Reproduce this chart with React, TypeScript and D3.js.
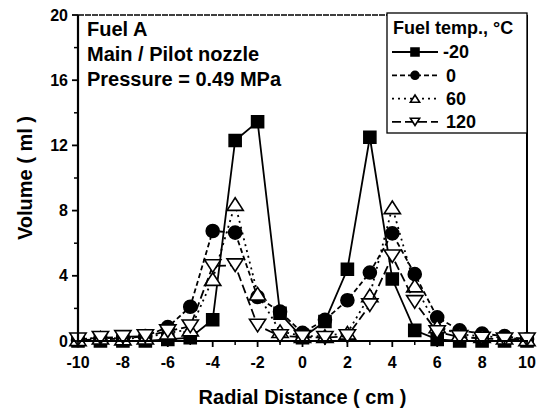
import React from "react";
import * as d3 from "d3";

const xs = [-10, -9, -8, -7, -6, -5, -4, -3, -2, -1, 0, 1, 2, 3, 4, 5, 6, 7, 8, 9, 10];
const tempM20 = [0, 0, 0, 0, 0.1, 0.2, 1.3, 12.3, 13.45, 1.7, 0.2, 1.2, 4.4, 12.5, 3.8, 0.65, 0.1, 0, 0, 0, 0];
const temp0 = [0.05, 0.1, 0.15, 0.3, 0.85, 2.1, 6.75, 6.65, 2.7, 1.8, 0.5, 1.3, 2.5, 4.2, 6.6, 4.1, 1.45, 0.65, 0.45, 0.3, 0.1];
const temp60 = [0.1, 0.2, 0.15, 0.2, 0.5, 0.7, 3.8, 8.4, 2.9, 0.6, 0.3, 0.3, 0.5, 2.8, 8.2, 3.4, 0.9, 0.4, 0.3, 0.2, 0.1];
const temp120 = [0.1, 0.2, 0.25, 0.3, 0.6, 0.9, 4.6, 4.65, 0.95, 0.3, 0.25, 0.2, 0.3, 2.2, 5.2, 2.4, 0.55, 0.25, 0.15, 0.1, 0.1];

const seriesLabels = ["-20", "0", "60", "120"];
const seriesValues = [tempM20, temp0, temp60, temp120];
const seriesMarkers = ["square", "circle", "up", "down"];
const seriesDash = ["none", "5,3", "2,4", "9,4"];

const xTicks = [-10, -8, -6, -4, -2, 0, 2, 4, 6, 8, 10];
const yTicks = [0, 4, 8, 12, 16, 20];
const annotations = ["Fuel A", "Main / Pilot nozzle", "Pressure = 0.49 MPa"];

const FONT = "'Liberation Sans', Arial, sans-serif";

function markerPath(kind: string, s: number): string {
  if (kind === "square") {
    const h = s / 2;
    return `M${-h},${-h}H${h}V${h}H${-h}Z`;
  }
  if (kind === "circle") {
    const r = s / 2;
    return `M${r},0A${r},${r} 0 1,1 ${-r},0A${r},${r} 0 1,1 ${r},0Z`;
  }
  const w = s * 0.58;
  const h = s * 0.45;
  if (kind === "up") return `M0,${-h}L${w},${h}L${-w},${h}Z`;
  return `M0,${h}L${w},${-h}L${-w},${-h}Z`;
}

function Marker({ kind, x, y, size }: { kind: string; x: number; y: number; size: number }) {
  const filled = kind === "square" || kind === "circle";
  return (
    <path
      d={markerPath(kind, size)}
      transform={`translate(${x},${y})`}
      fill={filled ? "#000" : "#fff"}
      stroke="#000"
      strokeWidth={1.6}
    />
  );
}

export default function App() {
  const W = 545;
  const H = 413;
  const left = 78;
  const right = 527;
  const top = 15;
  const bottom = 341;
  const x = d3.scaleLinear().domain([-10, 10]).range([left, right]);
  const y = d3.scaleLinear().domain([0, 20]).range([bottom, top]);
  const line = d3
    .line<number>()
    .x((_, i) => x(xs[i]))
    .y((d) => y(d));

  const xMinor = d3.range(-9, 10, 2);
  const yMinor = d3.range(2, 20, 4);
  const markerSize = [12, 13, 14, 14];

  return (
    <svg width={W} height={H} style={{ position: "absolute", left: 0, top: 0, background: "#fff" }}>
      <rect x={0} y={0} width={W} height={H} fill="#fff" />
      {/* frame */}
      <line x1={left} x2={right} y1={top} y2={top} stroke="#000" strokeWidth={1.3} strokeDasharray="6,1" />
      <line x1={right} x2={right} y1={top} y2={bottom} stroke="#000" strokeWidth={2} />
      {/* series */}
      {seriesValues.map((vals, si) => (
        <g key={si}>
          <path
            d={line(vals) || ""}
            fill="none"
            stroke="#000"
            strokeWidth={1.8}
            strokeDasharray={seriesDash[si] === "none" ? undefined : seriesDash[si]}
          />
          {vals.map((v, i) => (
            <Marker key={i} kind={seriesMarkers[si]} x={x(xs[i])} y={y(v)} size={markerSize[si]} />
          ))}
        </g>
      ))}
      {/* axes */}
      <line x1={left} x2={left} y1={top} y2={bottom + 1} stroke="#000" strokeWidth={2.2} />
      <line x1={left - 1} x2={right + 1} y1={bottom} y2={bottom} stroke="#000" strokeWidth={2.2} />
      {xTicks.map((t) => (
        <g key={"xt" + t}>
          <line x1={x(t)} x2={x(t)} y1={bottom} y2={bottom + 6} stroke="#000" strokeWidth={1.8} />
          <text
            x={x(t)}
            y={bottom + 27}
            textAnchor="middle"
            fontFamily={FONT}
            fontWeight="bold"
            fontSize={16}
          >
            {t}
          </text>
        </g>
      ))}
      {xMinor.map((t) => (
        <line key={"xm" + t} x1={x(t)} x2={x(t)} y1={bottom} y2={bottom + 4} stroke="#000" strokeWidth={1.5} />
      ))}
      {yTicks.map((t) => (
        <g key={"yt" + t}>
          <line x1={left - 6} x2={left} y1={y(t)} y2={y(t)} stroke="#000" strokeWidth={1.8} />
          <text
            x={left - 10}
            y={y(t)}
            dy="0.35em"
            textAnchor="end"
            fontFamily={FONT}
            fontWeight="bold"
            fontSize={16}
          >
            {t}
          </text>
        </g>
      ))}
      {yMinor.map((t) => (
        <line key={"ym" + t} x1={left - 4} x2={left} y1={y(t)} y2={y(t)} stroke="#000" strokeWidth={1.5} />
      ))}
      {/* axis titles */}
      <text
        x={(left + right) / 2}
        y={404}
        textAnchor="middle"
        fontFamily={FONT}
        fontWeight="bold"
        fontSize={20}
      >
        Radial Distance ( cm )
      </text>
      <text
        transform={`translate(32,${(top + bottom) / 2}) rotate(-90)`}
        textAnchor="middle"
        fontFamily={FONT}
        fontWeight="bold"
        fontSize={20}
      >
        Volume ( ml )
      </text>
      {/* annotations */}
      {annotations.map((a, i) => (
        <text key={a} x={87} y={36 + i * 25} fontFamily={FONT} fontWeight="bold" fontSize={20}>
          {a}
        </text>
      ))}
      {/* legend */}
      <g>
        <rect x={387} y={13} width={140} height={120} fill="#fff" stroke="#000" strokeWidth={1.3} />
        <text x={393} y={34} fontFamily={FONT} fontWeight="bold" fontSize={18}>
          Fuel temp., °C
        </text>
        {seriesLabels.map((lab, si) => {
          const cy = 52 + si * 23.3;
          return (
            <g key={lab}>
              <line
                x1={392}
                x2={438}
                y1={cy}
                y2={cy}
                stroke="#000"
                strokeWidth={1.8}
                strokeDasharray={seriesDash[si] === "none" ? undefined : seriesDash[si]}
              />
              <Marker kind={seriesMarkers[si]} x={415} y={cy} size={8} />
              <text
                x={si === 0 ? 443 : 446}
                y={cy}
                dy="0.36em"
                fontFamily={FONT}
                fontWeight="bold"
                fontSize={18}
              >
                {lab}
              </text>
            </g>
          );
        })}
      </g>
    </svg>
  );
}
